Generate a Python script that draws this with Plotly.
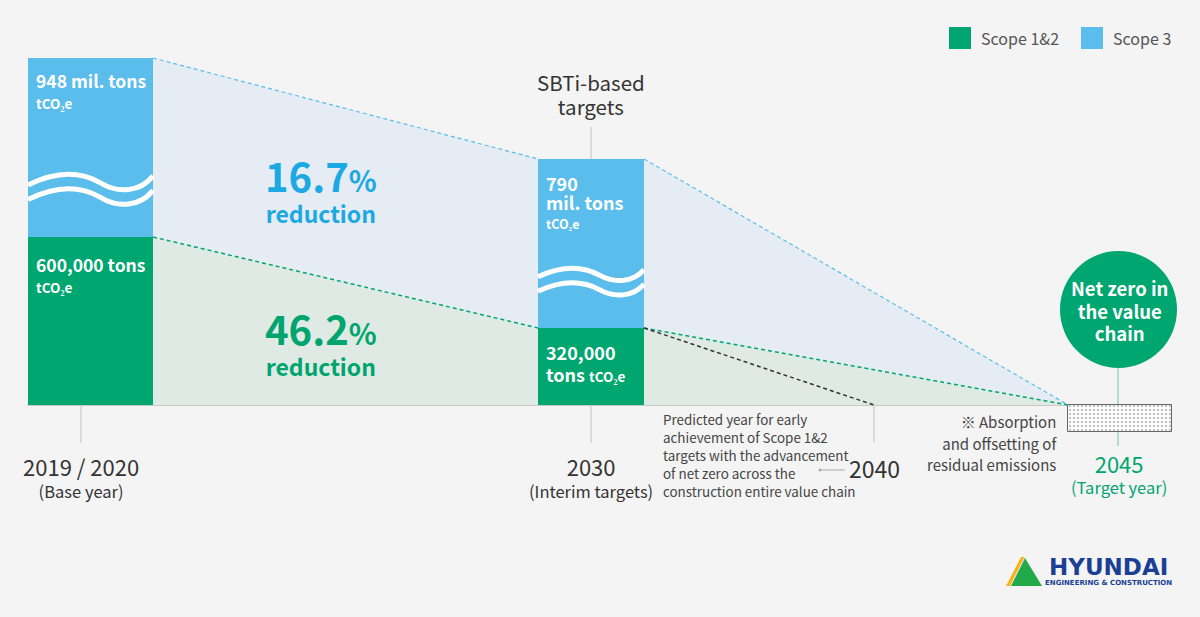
import plotly.graph_objects as go

# ---------------- data ----------------
stages = ["2019 / 2020", "2030", "2040", "2045"]
stage_notes = ["(Base year)", "(Interim targets)", "", "(Target year)"]
scope12_tons = [600000, 320000, None, 0]      # Scope 1&2, tCO2e
scope3_mil_tons = [948, 790, None, 0]         # Scope 3, mil. tons tCO2e
scope12_early_2040 = 0                        # predicted early achievement of Scope 1&2
reduction_scope3 = 16.7                       # % reduction 2030 vs base
reduction_scope12 = 46.2
legend_names = ["Scope 1&2", "Scope 3"]
bar_labels_scope3 = ["948 mil. tons", "790<br>mil. tons"]
bar_labels_scope12 = ["600,000 tons", "320,000<br>tons"]
unit_label = "tCO₂e"

# ---------------- layout / style ----------------
W, H = 1200, 617
BASE = 405                       # baseline (axis units == pixels, y grows downward)
stage_x = [90.5, 591, 874, 1120]
bar_w = [125, 106, 0, 104]
GREEN = "#00a66f"
BLUE = "#5bbdec"
BLUE_TXT = "#1ca8e2"
GREEN_TXT = "#00a56e"
FILL_BLUE = "#e5ecf3"
FILL_GREEN = "#e0eae5"
BG = "#f4f4f4"
FONT = "Noto Sans CJK KR"


def h12(v):
    # compressed display scale for Scope 1&2 (tons)
    return 0 if not v else 168 * (v / 600000) ** 1.24


def h3(v):
    # broken display scale for Scope 3 (mil. tons): stub + linear part
    return 0 if not v else 119 + 0.0633 * v


hs12 = [h12(v) for v in scope12_tons[:2]]
hs3 = [h3(v) for v in scope3_mil_tons[:2]]
b = [BASE - h for h in hs12]                                   # top of Scope 1&2
t = [BASE - h12v - h3v for h12v, h3v in zip(hs12, hs3)]        # top of Scope 3

left_r = stage_x[0] + bar_w[0] / 2
mid_l = stage_x[1] - bar_w[1] / 2
mid_r = stage_x[1] + bar_w[1] / 2
end_l = stage_x[3] - bar_w[3] / 2
end_y = BASE - h12(scope12_tons[3])
x2040 = stage_x[2]

fig = go.Figure()


def poly(xs, ys, color):
    fig.add_trace(go.Scatter(x=xs + [xs[0]], y=ys + [ys[0]], mode="lines", fill="toself",
                             fillcolor=color, line=dict(width=0), hoverinfo="skip",
                             showlegend=False))


poly([left_r, mid_l, mid_l, left_r], [t[0], t[1], b[1], b[0]], FILL_BLUE)
poly([left_r, mid_l, mid_l, left_r], [b[0], b[1], BASE, BASE], FILL_GREEN)
poly([mid_r, end_l, mid_r], [t[1], end_y, b[1]], FILL_BLUE)
poly([mid_r, end_l, mid_r], [b[1], end_y, BASE], FILL_GREEN)

# bars
fig.add_trace(go.Bar(x=stage_x[:2], y=[-h for h in hs12], base=[BASE, BASE], width=bar_w[:2],
                     marker=dict(color=GREEN, line=dict(width=0)), name=legend_names[0],
                     showlegend=False, hoverinfo="skip"))
fig.add_trace(go.Bar(x=stage_x[:2], y=[-h for h in hs3], base=b, width=bar_w[:2],
                     marker=dict(color=BLUE, line=dict(width=0)), name=legend_names[1],
                     showlegend=False, hoverinfo="skip"))
# residual emissions box (2045)
fig.add_trace(go.Bar(x=[stage_x[3]], y=[27], base=[BASE], width=[bar_w[3]],
                     marker=dict(color="#ffffff",
                                 pattern=dict(shape=".", fgcolor="#8c8c8c", bgcolor="#ffffff",
                                              size=4, solidity=0.35),
                                 line=dict(color="#666666", width=1)),
                     showlegend=False, hoverinfo="skip"))


def dline(x0, y0, x1, y1, color, width=1.4):
    fig.add_trace(go.Scatter(x=[x0, x1], y=[y0, y1], mode="lines",
                             line=dict(color=color, width=width, dash="4px,3px"),
                             hoverinfo="skip", showlegend=False))


dline(left_r, t[0], mid_l, t[1], BLUE, 1.2)
dline(mid_r, t[1], end_l, end_y, BLUE, 1.2)
dline(left_r, b[0], mid_l, b[1], GREEN, 1.5)
dline(mid_r, b[1], end_l, end_y, GREEN, 1.5)
dline(mid_r, b[1], x2040, BASE - scope12_early_2040, "#333333", 1.5)

shapes = []
GRAY = "#c9c9c9"
shapes.append(dict(type="line", x0=27, x1=end_l, y0=BASE + 0.5, y1=BASE + 0.5,
                   line=dict(color=GRAY, width=1.2), layer="below"))
shapes.append(dict(type="line", x0=81, x1=81, y0=BASE, y1=443, line=dict(color=GRAY, width=1.2)))
shapes.append(dict(type="line", x0=stage_x[1], x1=stage_x[1], y0=BASE, y1=443,
                   line=dict(color=GRAY, width=1.2)))
shapes.append(dict(type="line", x0=stage_x[1], x1=stage_x[1], y0=127, y1=t[1],
                   line=dict(color=GRAY, width=1.2)))
shapes.append(dict(type="line", x0=x2040, x1=x2040, y0=BASE, y1=442,
                   line=dict(color=GRAY, width=1.2)))
shapes.append(dict(type="line", x0=stage_x[3] - 2, x1=stage_x[3] - 2, y0=360, y1=446,
                   line=dict(color="#9fd5bd", width=1.5), layer="below"))
shapes.append(dict(type="circle", x0=1060, x1=1177, y0=251, y1=368,
                   fillcolor=GREEN, line=dict(width=0)))
shapes.append(dict(type="line", x0=821, x1=845, y0=470, y1=470, line=dict(color="#aaaaaa", width=1)))
shapes.append(dict(type="circle", x0=818.5, x1=821.5, y0=468.5, y1=471.5,
                   fillcolor="#aaaaaa", line=dict(width=0)))


def wave(x0, x1, yc, a):
    w = x1 - x0
    P = lambda f, k: f"{x0 + f * w:.1f},{yc + k * a:.1f}"
    return (f"M {P(0, 0.15)} C {P(0.24, -2)} {P(0.43, -1.7)} {P(0.58, -0.15)} "
            f"C {P(0.72, 1.4)} {P(0.9, 1.15)} {P(1.0, -1.15)}")


for xl, xr, yc, amp in [(28, 153, 184, 7), (538, 644, 276, 5.5)]:
    for dy in (0, 14.5):
        shapes.append(dict(type="path", path=wave(xl, xr, yc + dy, amp),
                           line=dict(color="white", width=5)))

shapes.append(dict(type="rect", x0=949, x1=971, y0=27, y1=49, fillcolor=GREEN, line=dict(width=0)))
shapes.append(dict(type="rect", x0=1081, x1=1103, y0=27, y1=49, fillcolor=BLUE, line=dict(width=0)))

shapes.append(dict(type="path", path="M 1006,586 L 1021,557 L 1024.5,557 L 1010,586 Z",
                   fillcolor="#f6b31b", line=dict(width=0)))
shapes.append(dict(type="path", path="M 1011,586 L 1025,558 L 1042,586 Z",
                   fillcolor="#22a94a", line=dict(width=0)))

ann = []


def block(x, y, lines, sizes, spacing, color, anchor="center", bold=False, family=FONT):
    """Multi-line text block; y = centre of the block, spacing = px between lines."""
    base = spacing / 1.3
    html = "<br>".join(f"<span style='font-size:{s}px'>{l}</span>" for l, s in zip(lines, sizes))
    ann.append(dict(x=x, y=y, text=html, showarrow=False, xanchor=anchor, yanchor="middle",
                    align=anchor if anchor != "center" else "center", borderpad=0,
                    font=dict(family=family, size=base, color=color,
                              weight="bold" if bold else "normal")))


def txt(x, y, s, size, color, anchor="center", bold=False, family=FONT):
    ann.append(dict(x=x, y=y, text=s, showarrow=False, xanchor=anchor, yanchor="middle",
                    borderpad=0,
                    font=dict(family=family, size=size, color=color,
                              weight="bold" if bold else "normal")))


# bar labels
block(35, 90, [bar_labels_scope3[0], unit_label], [17.5, 13.5], 21, "white", "left", True)
block(35, 274, [bar_labels_scope12[0], unit_label], [17.5, 13.5], 21, "white", "left", True)
l3 = bar_labels_scope3[1].split("<br>")
block(545, 201, l3 + [unit_label], [18, 18, 12.5], 19, "white", "left", True)
l12 = bar_labels_scope12[1].split("<br>")
block(545, 363, [l12[0], l12[1] + f" <span style='font-size:13.5px'>{unit_label}</span>"],
      [18, 18], 21.5, "white", "left", True)

# reductions
pct = "<span style='font-size:29px'>%</span>"
block(321, 188, [f"<span style='font-size:40px'>{reduction_scope3}</span>{pct}", "reduction"],
      [40, 23], 31, BLUE_TXT, bold=True)
block(321, 341, [f"<span style='font-size:40px'>{reduction_scope12}</span>{pct}", "reduction"],
      [40, 23], 31, GREEN_TXT, bold=True)

# SBTi
block(591, 94, ["SBTi-based", "targets"], [20.5, 20.5], 24, "#333333")

# stage labels
block(81, 476, [stages[0], stage_notes[0]], [22, 16.5], 22, "#333333")
block(591, 476, [stages[1], stage_notes[1]], [22, 16.5], 22, "#333333")
txt(874, 468, stages[2], 23, "#333333")
block(1119, 473, [stages[3], stage_notes[3]], [22, 16.5], 21, GREEN_TXT)

pred = ["Predicted year for early", "achievement of Scope 1&2", "targets with the advancement",
        "of net zero across the", "construction entire value chain"]
block(662, 455, pred, [13.4] * 5, 18, "#444444", "left")

absn = ["※ Absorption", "and offsetting of", "residual emissions"]
block(1058, 443, absn, [15] * 3, 21.5, "#444444", "right")

block(1119, 310, ["Net zero in", "the value", "chain"], [18.5] * 3, 22.5, "white", bold=True)

# legend texts
txt(980, 38, legend_names[0], 16, "#555555", "left")
txt(1112, 38, legend_names[1], 16, "#555555", "left")

# logo text
txt(1108, 567, "HYUNDAI", 23, "#1b3f94", bold=True, family="DejaVu Sans")
txt(1108, 583, "ENGINEERING &amp; CONSTRUCTION", 7, "#1b3f94", bold=True, family="DejaVu Sans")

fig.update_layout(
    width=W, height=H, autosize=False,
    margin=dict(l=0, r=0, t=0, b=0),
    paper_bgcolor=BG, plot_bgcolor=BG,
    barmode="overlay", bargap=0,
    showlegend=False,
    xaxis=dict(range=[0, W], visible=False, fixedrange=True),
    yaxis=dict(range=[H, 0], visible=False, fixedrange=True),
    shapes=shapes, annotations=ann,
    font=dict(family=FONT),
)

fig.write_html("out.html", config={"displayModeBar": False},
               post_script="document.body.style.margin='0';document.body.style.overflow='hidden';")
